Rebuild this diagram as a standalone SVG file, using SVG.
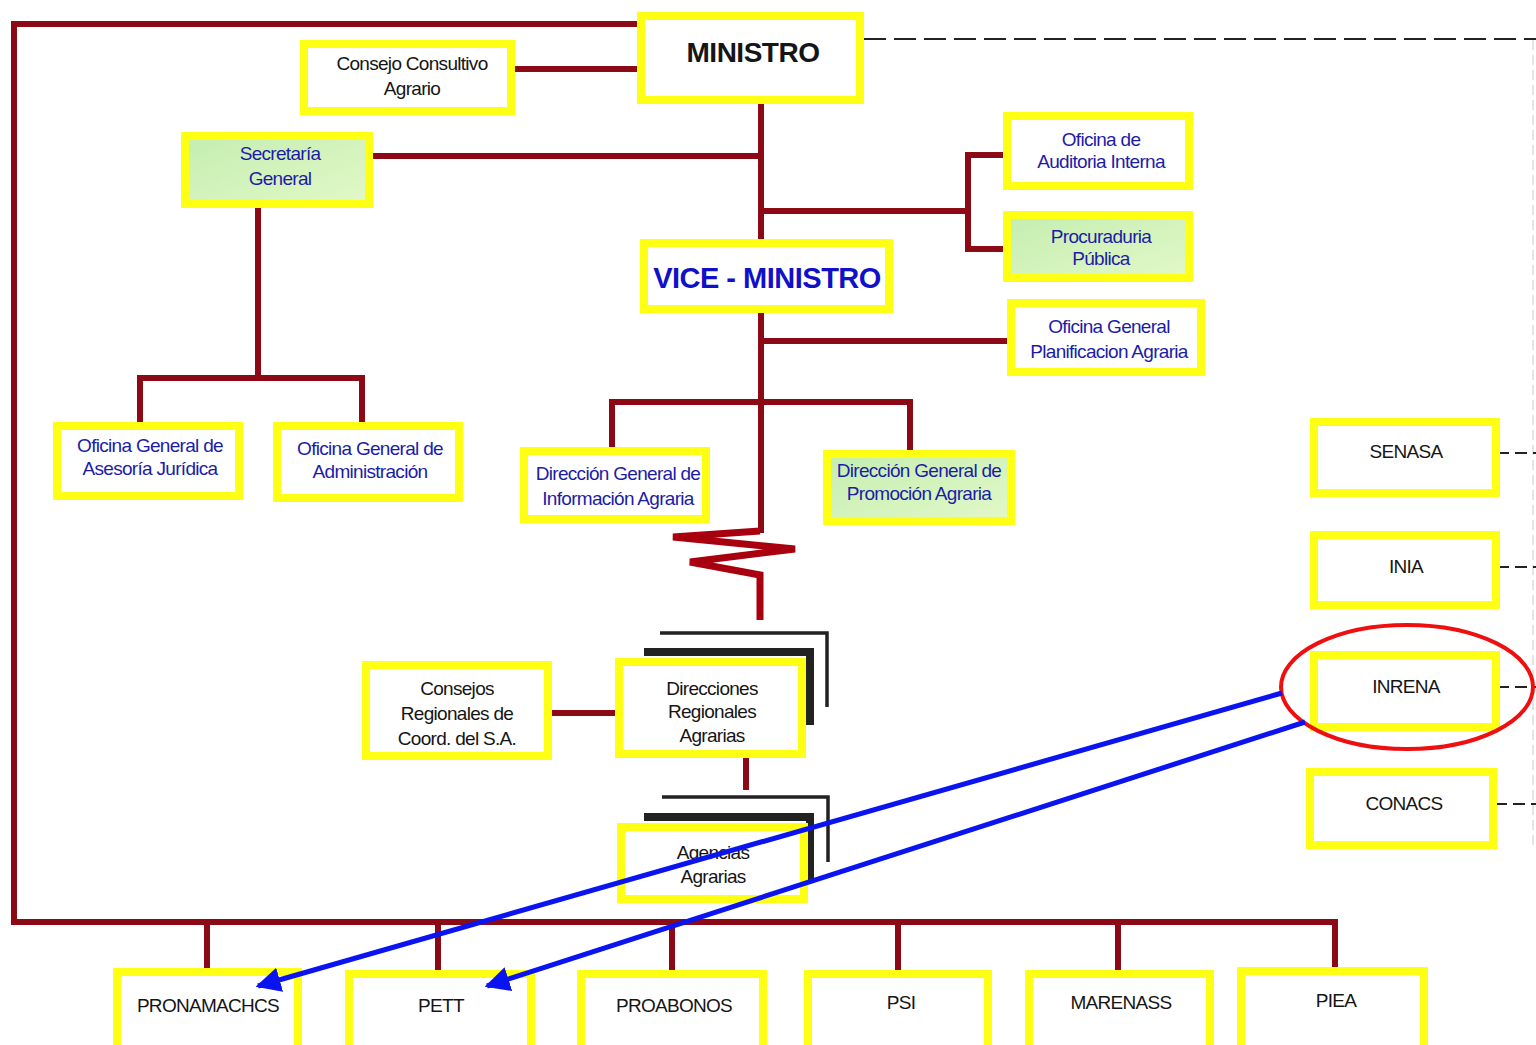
<svg xmlns="http://www.w3.org/2000/svg" width="1536" height="1045" viewBox="0 0 1536 1045">
<defs>
<linearGradient id="grn" x1="0" y1="0" x2="1" y2="1">
<stop offset="0" stop-color="#c4eeb0"/><stop offset="1" stop-color="#e2f8c8"/>
</linearGradient>
<marker id="ah" viewBox="0 0 10 10" refX="9" refY="5" markerWidth="5" markerHeight="5" orient="auto" markerUnits="strokeWidth">
<path d="M0,0 L10,5 L0,10 z" fill="#0a14f0"/>
</marker>
<style>
.box{fill:#fff;stroke:#ffff14;stroke-width:8}
.gbox{fill:url(#grn);stroke:#ffff14;stroke-width:8}
.t{font-family:"Liberation Sans",Arial,sans-serif;font-size:19px;text-anchor:middle;letter-spacing:-0.7px}
.k{fill:#151515}
.b{fill:#1c1ca8}
.ln{fill:none;stroke:#8c0a16;stroke-width:6}
.dash{fill:none;stroke:#222;stroke-width:2;stroke-dasharray:22 8}
.dash2{fill:none;stroke:#222;stroke-width:2;stroke-dasharray:12 6}
.sh{fill:none;stroke:#222}
</style>
</defs>
<rect width="1536" height="1045" fill="#fff"/>

<g id="connectors">
<path class="ln" d="M637,24 H14 V922 H1335 V968"/>
<path class="ln" d="M515,69 H637"/>
<path class="ln" d="M761,104 V533"/>
<path class="ln" d="M373,156 H761"/>
<path class="ln" d="M761,211 H968 M1003,155 H968 V249 H1003"/>
<path class="ln" d="M761,341 H1007"/>
<path class="ln" d="M258,208 V378 M140,422 V378 H362 V422"/>
<path class="ln" d="M612,447 V402 H910 V450"/>
<polyline points="760,531 673,537 795,549 690,562 760,575 760,620" fill="none" stroke="#a8000e" stroke-width="7" stroke-linejoin="miter"/>
<path class="ln" d="M552,713 H615"/>
<path class="ln" d="M746,758 V790"/>
<path class="ln" d="M207,922 V968 M438,922 V970 M672,922 V970 M898,922 V970 M1118,922 V970"/>
<path class="dash" d="M864,39 H1536"/>
<path d="M1533,40 V850" fill="none" stroke="#ddd" stroke-width="1.5" stroke-dasharray="10 5"/>
<path class="dash2" d="M1497,453 H1536 M1497,567 H1536 M1497,687 H1536 M1495,804 H1536"/>
</g>

<g id="ministro"><rect class="box" x="641" y="16" width="219" height="84"/><text class="t k" x="753" y="62" style="font-size:28px;font-weight:bold;letter-spacing:-0.5px">MINISTRO</text></g>
<g id="consejo"><rect class="box" x="304" y="44" width="207" height="67"/><text class="t k" x="412" y="70">Consejo Consultivo</text><text class="t k" x="412" y="95">Agrario</text></g>
<g id="secretaria"><rect class="gbox" x="185" y="136" width="184" height="68"/><text class="t b" x="280" y="160">Secretaría</text><text class="t b" x="280" y="185">General</text></g>
<g id="auditoria"><rect class="box" x="1007" y="116" width="182" height="70"/><text class="t b" x="1101" y="146">Oficina de</text><text class="t b" x="1101" y="168">Auditoria Interna</text></g>
<g id="procuraduria"><rect class="gbox" x="1007" y="215" width="182" height="63"/><text class="t b" x="1101" y="243">Procuraduria</text><text class="t b" x="1101" y="265">Pública</text></g>
<g id="vice"><rect class="box" x="644" y="243" width="245" height="66"/><text class="t b" x="767" y="288" style="font-size:29px;font-weight:bold;fill:#1010c8;letter-spacing:-0.5px">VICE - MINISTRO</text></g>
<g id="planificacion"><rect class="box" x="1011" y="303" width="190" height="69"/><text class="t b" x="1109" y="333">Oficina  General</text><text class="t b" x="1109" y="358">Planificacion Agraria</text></g>
<g id="asesoria"><rect class="box" x="57" y="426" width="182" height="70"/><text class="t b" x="150" y="452">Oficina General de</text><text class="t b" x="150" y="475">Asesoría Jurídica</text></g>
<g id="administracion"><rect class="box" x="277" y="426" width="182" height="72"/><text class="t b" x="370" y="455">Oficina General de</text><text class="t b" x="370" y="478">Administración</text></g>
<g id="informacion"><rect class="box" x="524" y="451" width="182" height="68"/><text class="t b" x="618" y="480">Dirección General de</text><text class="t b" x="618" y="505">Información Agraria</text></g>
<g id="promocion"><rect class="gbox" x="827" y="454" width="184" height="67"/><text class="t b" x="919" y="477">Dirección General de</text><text class="t b" x="919" y="500">Promoción Agraria</text></g>
<g id="consejos-regionales"><rect class="box" x="366" y="665" width="182" height="91"/><text class="t k" x="457" y="695">Consejos</text><text class="t k" x="457" y="720">Regionales de</text><text class="t k" x="457" y="745">Coord. del S.A.</text></g>
<g id="direcciones-regionales">
<path class="sh" stroke-width="3.5" d="M660,633 H827 V707"/>
<path class="sh" stroke-width="8" d="M644,652 H810 V725"/>
<rect class="box" x="619" y="662" width="183" height="92"/><text class="t k" x="712" y="695">Direcciones</text><text class="t k" x="712" y="718">Regionales</text><text class="t k" x="712" y="742">Agrarias</text></g>
<g id="agencias">
<path class="sh" stroke-width="3.5" d="M662,797 H828 V862"/>
<path class="sh" stroke-width="8" d="M644,817 H810 V880"/>
<rect class="box" x="621" y="827" width="183" height="72"/><text class="t k" x="713" y="859">Agencias</text><text class="t k" x="713" y="883">Agrarias</text></g>
<g id="senasa"><rect class="box" x="1314" y="422" width="182" height="71"/><text class="t k" x="1406" y="458">SENASA</text></g>
<g id="inia"><rect class="box" x="1314" y="535" width="182" height="70"/><text class="t k" x="1406" y="573">INIA</text></g>
<g id="inrena"><rect class="box" x="1314" y="655" width="182" height="72"/><text class="t k" x="1406" y="693">INRENA</text></g>
<g id="conacs"><rect class="box" x="1310" y="772" width="183" height="73"/><text class="t k" x="1404" y="810">CONACS</text></g>
<g id="pronamachcs"><rect class="box" x="117" y="972" width="181" height="80"/><text class="t k" x="208" y="1012">PRONAMACHCS</text></g>
<g id="pett"><rect class="box" x="349" y="974" width="182" height="78"/><text class="t k" x="441" y="1012">PETT</text></g>
<g id="proabonos"><rect class="box" x="581" y="974" width="182" height="78"/><text class="t k" x="674" y="1012">PROABONOS</text></g>
<g id="psi"><rect class="box" x="808" y="974" width="180" height="78"/><text class="t k" x="901" y="1009">PSI</text></g>
<g id="marenass"><rect class="box" x="1029" y="974" width="181" height="78"/><text class="t k" x="1121" y="1009">MARENASS</text></g>
<g id="piea"><rect class="box" x="1241" y="971" width="183" height="80"/><text class="t k" x="1336" y="1007">PIEA</text></g>

<g id="annotations">
<ellipse cx="1407" cy="687" rx="126" ry="62" fill="none" stroke="#ee1010" stroke-width="4"/>
<line x1="1282" y1="693" x2="258" y2="986" stroke="#0a14f0" stroke-width="5" marker-end="url(#ah)"/>
<line x1="1305" y1="722" x2="487" y2="986" stroke="#0a14f0" stroke-width="5" marker-end="url(#ah)"/>
</g>
</svg>
